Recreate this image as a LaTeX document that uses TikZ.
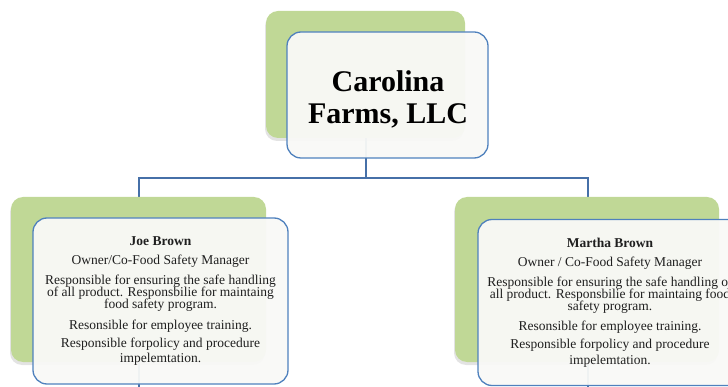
\documentclass[tikz,border=0pt]{standalone}
\usepackage{fontspec}
\setmainfont{Liberation Serif}
\usetikzlibrary{shadows,backgrounds}
\definecolor{boxgreen}{RGB}{192,216,150}
\definecolor{boxblue}{RGB}{79,129,189}
\definecolor{boxfill}{RGB}{249,249,247}
\definecolor{connblue}{RGB}{70,112,168}
\begin{document}
\lineskiplimit=-6pt
\begin{tikzpicture}[x=1pt,y=-1pt,
  greenbox/.style={fill=boxgreen, draw=none, rounded corners=12pt, inner sep=0pt,
    drop shadow={shadow xshift=-1pt, shadow yshift=-3pt, opacity=0.22}},
  whitebox/.style={fill=boxfill, fill opacity=0.95, text opacity=1, draw=boxblue,
    line width=1.3pt, rounded corners=14pt, inner sep=0pt, align=center, text=black!88},
  conn/.style={draw=connblue, line width=2pt},
  bodyfont/.style={font=\fontsize{13.5}{12}\selectfont},
  titlefont/.style={font=\fontsize{30}{32}\selectfont\bfseries}]
\useasboundingbox (0,0) rectangle (728,387);
\clip (0,0) rectangle (728,387);
% top
\node[greenbox, minimum width=199pt, minimum height=127pt] (tg) at (365.5,74.5) {};
\node[whitebox, titlefont, text=black, minimum width=201pt, minimum height=126pt] (tw) at (387.5,95) {};
\node[titlefont, align=center, inner sep=0pt] (title) at (388,99) {Carolina\\Farms, LLC};
% left
\node[greenbox, minimum width=255pt, minimum height=165pt] (lg) at (138.5,279.5) {};
\node[whitebox, bodyfont, minimum width=255pt, minimum height=166pt] (lw) at (160.5,301)
  {\textbf{Joe Brown}\\[7.3pt]
   Owner/Co-Food Safety Manager\\[7.7pt]
   Responsible for ensuring the safe handling\\
   of all product. Responsbilie for maintaing\\
   food safety program.\\[8.7pt]
   Resonsible for employee training.\\[6pt]
   Responsible forpolicy and procedure\\[3.3pt]
   impelemtation.};
% right
\node[greenbox, minimum width=264pt, minimum height=165pt] (rg) at (587,279.5) {};
\node[whitebox, bodyfont, minimum width=264pt, minimum height=166pt] (rw) at (610,302.5)
  {\textbf{Martha Brown}\\[7.3pt]
   Owner / Co-Food Safety Manager\\[7.7pt]
   Responsible for ensuring the safe handling of\\
   all product. Responsbilie for maintaing food\\
   safety program.\\[8.7pt]
   Resonsible for employee training.\\[6pt]
   Responsible forpolicy and procedure\\[3.3pt]
   impelemtation.};
% connectors
\coordinate (hub) at (365.5,178);
\coordinate (lend) at (138.5,400);
\coordinate (rend) at (587.5,400);
\begin{scope}[on background layer]
\draw[conn] (tg.center) -- (hub) -| (lend);
\draw[conn] (hub) -| (rend);
\end{scope}
\end{tikzpicture}
\end{document}
